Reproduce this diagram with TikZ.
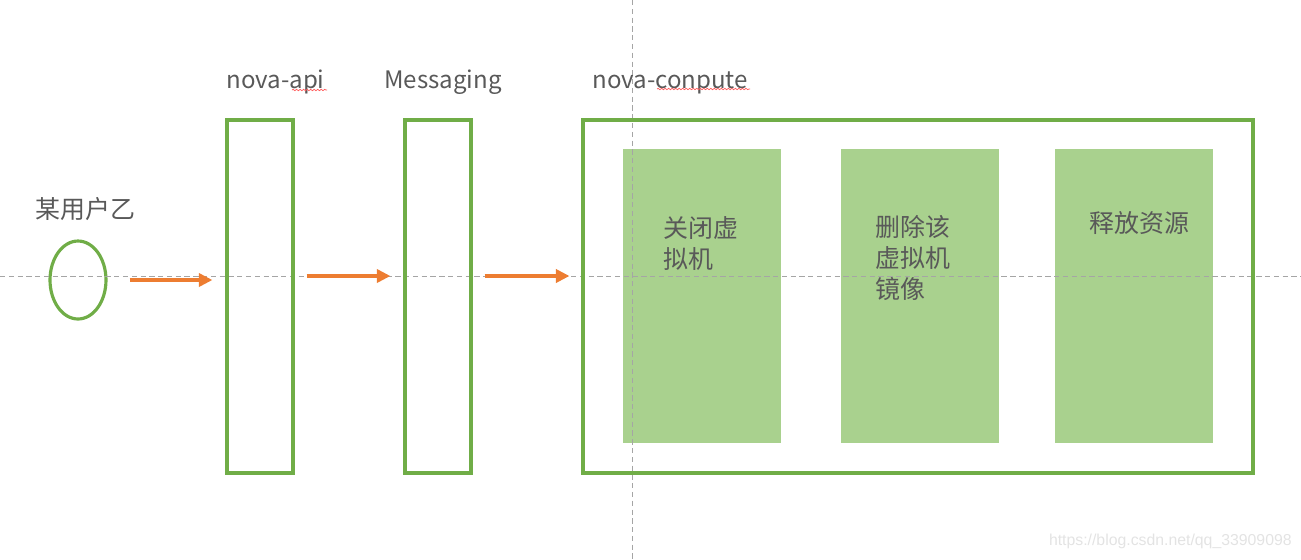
\documentclass[tikz,border=0pt]{standalone}
\usepackage{fontspec}
\setmainfont{Noto Sans CJK SC}
\newfontfamily\markfont{Liberation Sans}
\usepackage{tikz}
\usetikzlibrary{positioning,calc,shapes.geometric,arrows.meta,decorations.pathmorphing}
\definecolor{OfficeGreen}{RGB}{112,173,71}
\definecolor{LightGreen}{RGB}{169,209,142}
\definecolor{OfficeOrange}{RGB}{237,125,49}
\definecolor{TextGray}{RGB}{89,89,89}
\definecolor{GuideGray}{RGB}{165,165,165}

\begin{document}
\begin{tikzpicture}[x=0.02cm,y=-0.02cm,
  stage/.style={draw=OfficeGreen,line width=1.8pt,minimum width=1.32cm,minimum height=7.06cm,inner sep=0pt},
  task/.style={fill=LightGreen,minimum width=3.16cm,minimum height=5.88cm,inner sep=0pt},
  title/.style={text=TextGray,font=\fontsize{13.7}{16}\selectfont,inner sep=0pt,anchor=base west},
  tasktext/.style={text=TextGray,font=\fontsize{14.2}{17.6}\selectfont,align=left,inner sep=0pt,anchor=north west},
  flow/.style={draw=OfficeOrange,line width=2pt,-{Triangle[length=0.27cm,width=0.26cm]}},
  guide/.style={draw=GuideGray,line width=0.5pt,dash pattern=on 3pt off 2pt},
  typo/.style={draw=red!65,line width=0.4pt,decorate,decoration={snake,amplitude=0.4pt,segment length=2pt}}]
\useasboundingbox (0,0) rectangle (1301,559);
% user
\node[text=TextGray,font=\fontsize{14.2}{17}\selectfont,inner sep=0pt,anchor=base west] (username) at (35,218) {某用户乙};
\node[ellipse,draw=OfficeGreen,line width=1.8pt,minimum width=1.12cm,minimum height=1.56cm,inner sep=0pt] (user) at (78,280) {};
% tasks inside nova-compute
\node[task] (stop) at (702,296) {};
\node[task] (delete) at (920,296) {};
\node[task] (release) at (1134,296) {};
\node[tasktext] (stoptext) at (663,216) {关闭虚\\拟机};
\node[tasktext] (deletetext) at (875,215) {删除该\\虚拟机\\镜像};
\node[tasktext] (releasetext) at (1089,211) {释放资源};
% guide lines
\draw[guide] (0,276) -- (1301,276);
\draw[guide] (632,0) -- (632,559);
% stages
\node[stage] (api) at (260,296.5) {};
\node[stage] (msg) at (438,296.5) {};
\node[stage,minimum width=13.4cm] (compute) at (918,296.5) {};
\node[title] (apiname) at (226,88) {nova-api};
\node[title] (msgname) at (384,88) {Messaging};
\node[title] (computename) at (592,88) {nova-conpute};
\draw[typo] (292,90) -- (327,90);
\draw[typo] (657,89) -- (750,89);
% requests
\coordinate (lvl) at (0,276);
\draw[flow,shorten <=0.44cm,shorten >=0.26cm] (user.east) -- (user.east -| api.west);
\draw[flow,shorten <=0.24cm,shorten >=0.26cm] (api.east |- lvl) -- (msg.west |- lvl);
\draw[flow,shorten <=0.24cm,shorten >=0.24cm] (msg.east |- lvl) -- (compute.west |- lvl);
\node[text=black!11,font=\markfont\fontsize{9}{10}\selectfont,inner sep=0pt,anchor=east] (mark) at (1292,541) {https://blog.csdn.net/qq\_33909098};
\end{tikzpicture}
\end{document}
